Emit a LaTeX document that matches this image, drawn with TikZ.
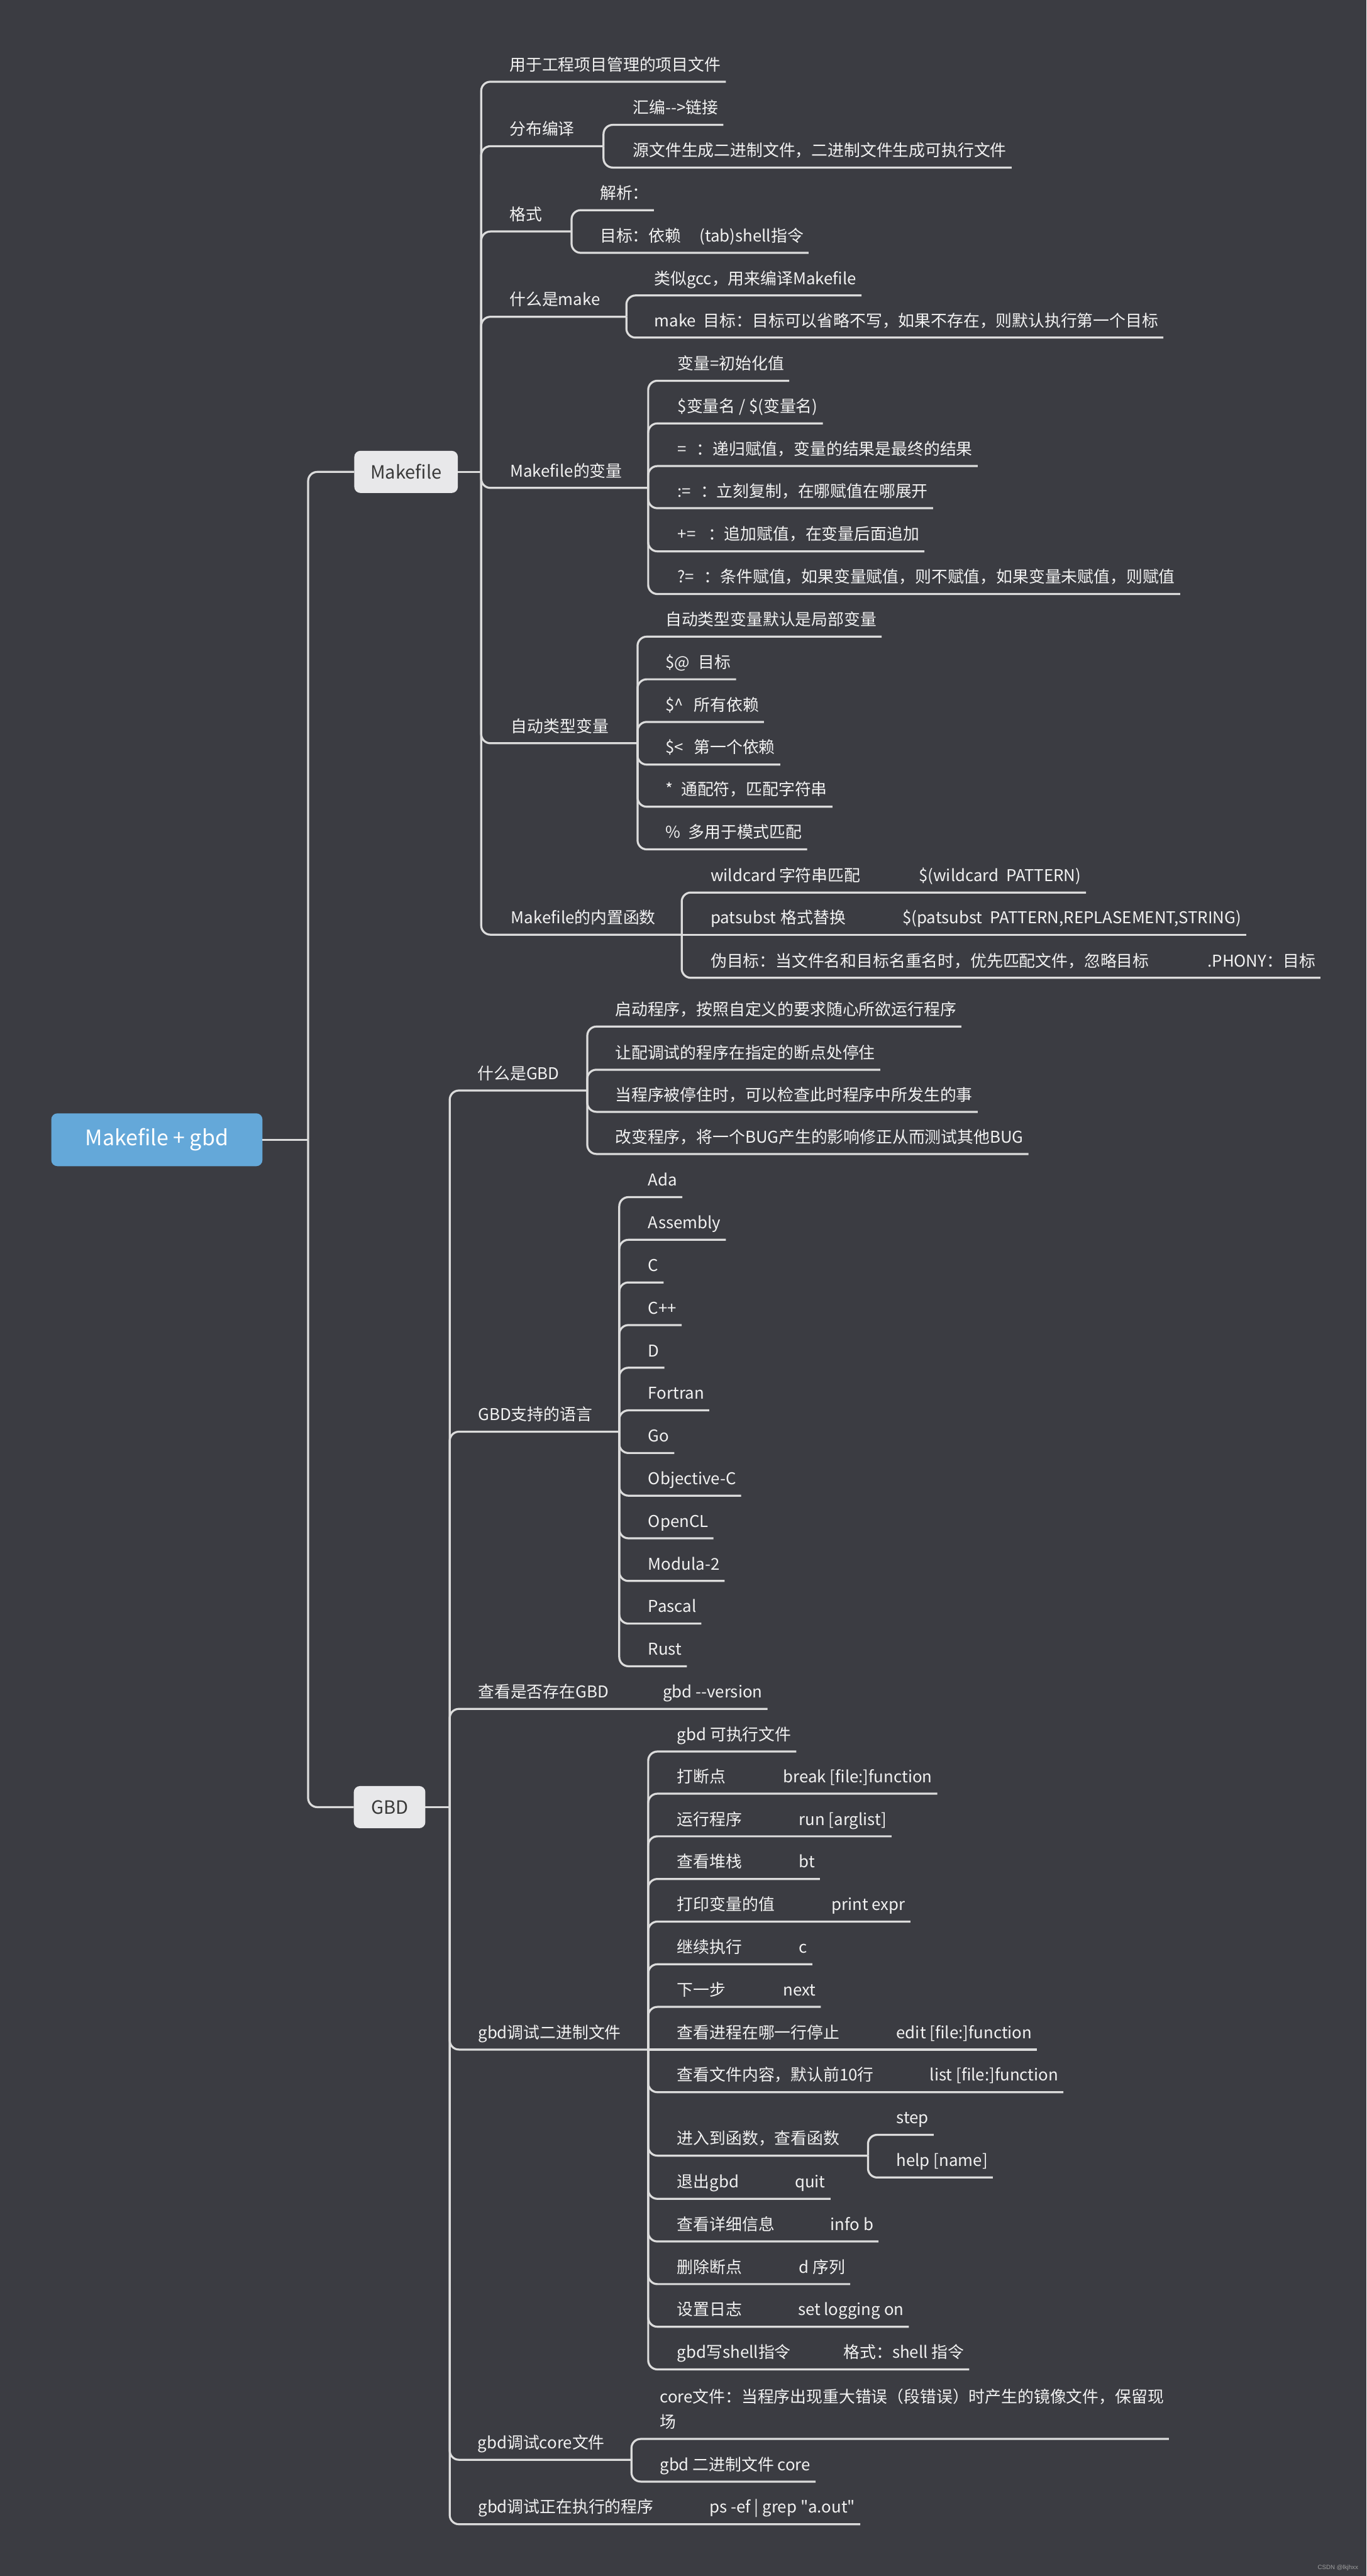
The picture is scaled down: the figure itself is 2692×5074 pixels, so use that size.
\documentclass[tikz,border=0pt]{standalone}
\usepackage{fontspec}
\setmainfont{Noto Sans CJK SC}
\newfontfamily\wmfont{Liberation Sans}
\newdimen\pxu \pxu=0.5pt
\newcommand\tb[2]{\makebox[#1\pxu][l]{#2}}
\definecolor{bgc}{HTML}{3B3C42}
\definecolor{linec}{HTML}{DCDCDC}
\definecolor{txtc}{HTML}{F2F2F2}
\definecolor{boxc}{HTML}{E8E8EA}
\definecolor{boxtxt}{HTML}{3A3A3A}
\definecolor{rootc}{HTML}{64A8D9}
\definecolor{wmc}{HTML}{A0A0A0}
\begin{document}
\begin{tikzpicture}[x=0.5pt,y=-0.5pt,
  conn/.style={draw=linec, line width=2pt, rounded corners=9pt},
  topic/.style={anchor=south west, inner xsep=5pt, inner ysep=11pt, outer sep=0pt, text depth=0pt, text=txtc, font=\fontsize{16pt}{19pt}\selectfont},
  catbox/.style={fill=boxc, rounded corners=6pt, text=boxtxt, font=\fontsize{18pt}{21pt}\selectfont, minimum height=41.5pt, inner sep=0pt, outer sep=0pt},
  rootbox/.style={fill=rootc, rounded corners=6pt, text=white, font=\fontsize{21pt}{25pt}\selectfont, minimum width=208pt, minimum height=52pt, inner sep=0pt, outer sep=0pt}]
\fill[bgc] (0,0) rectangle (2692,5074);
\useasboundingbox (0,0) rectangle (2692,5074);

% ---------- central and main topics
\node[rootbox] (root) at (309,2245) {Makefile + gbd};
\coordinate (mtrunk) at (607,2245);
\node[catbox, minimum width=102pt] (mk) at (800,929.5) {Makefile};
\node[catbox, minimum width=70.5pt] (gbd) at (767.5,3559.5) {GBD};
\coordinate (mkT) at (948,929.5);
\coordinate (gbT) at (886,3559.5);

% ---------- Makefile branch
\node[topic] (m1) at (994,161) {用于工程项目管理的项目文件};
\node[topic] (m2) at (994,288) {分布编译};
\coordinate (m2T) at (1189,288);
\node[topic] (m2a) at (1237,246) {汇编-{}->链接};
\node[topic] (m2b) at (1237,330) {源文件生成二进制文件，二进制文件生成可执行文件};
\node[topic] (m3) at (994,456) {格式};
\coordinate (m3T) at (1126,456);
\node[topic] (m3a) at (1172,414) {解析：};
\node[topic] (m3b) at (1172,498) {\tb{196}{目标：依赖}(tab)shell指令};
\node[topic] (m4) at (994,624) {什么是make};
\coordinate (m4T) at (1234,624);
\node[topic] (m4a) at (1279,582) {类似gcc，用来编译Makefile};
\node[topic] (m4b) at (1279,665) {\tb{97}{make}目标：目标可以省略不写，如果不存在，则默认执行第一个目标};
\node[topic] (m5) at (995,961) {Makefile的变量};
\coordinate (m5T) at (1277,961);
\node[topic] (m5a) at (1325,750) {变量=初始化值};
\node[topic] (m5b) at (1325,834) {\$变量名 / \$(变量名)};
\node[topic] (m5c) at (1325,918) {\tb{37}{=}：递归赋值，变量的结果是最终的结果};
\node[topic] (m5d) at (1325,1001) {\tb{45}{:=}：立刻复制，在哪赋值在哪展开};
\node[topic] (m5e) at (1325,1086) {\tb{60}{+=}：追加赋值，在变量后面追加};
\node[topic] (m5f) at (1325,1170) {\tb{52}{?=}：条件赋值，如果变量赋值，则不赋值，如果变量未赋值，则赋值};
\node[topic] (m6) at (997,1464) {自动类型变量};
\coordinate (m6T) at (1256,1464);
\node[topic] (m6a) at (1301,1254) {自动类型变量默认是局部变量};
\node[topic] (m6b) at (1301,1338) {\tb{65}{\$@}目标};
\node[topic] (m6c) at (1301,1422) {\tb{56}{\$\textasciicircum}所有依赖};
\node[topic] (m6d) at (1301,1506) {\tb{56}{\$<}第一个依赖};
\node[topic] (m6e) at (1301,1589) {\tb{31}{*}通配符，匹配字符串};
\node[topic] (m6f) at (1301,1673) {\tb{45}{\%}多用于模式匹配};
\node[topic] (m7) at (997,1841) {Makefile的内置函数};
\coordinate (m7T) at (1343,1841);
\node[topic] (m7a) at (1390,1758) {\tb{135}{wildcard}\tb{275}{字符串匹配}\$(wildcard\ \ PATTERN)};
\node[topic] (m7b) at (1390,1841) {\tb{138}{patsubst}\tb{240}{格式替换}\$(patsubst\ \ PATTERN,REPLASEMENT,STRING)};
\node[topic] (m7c) at (1390,1926) {\tb{979}{伪目标：当文件名和目标名重名时，优先匹配文件，忽略目标}.PHONY：目标};

% ---------- GBD branch
\node[topic] (g1) at (931,2148) {什么是GBD};
\coordinate (g1T) at (1157,2148);
\node[topic] (g1a) at (1202,2022) {启动程序，按照自定义的要求随心所欲运行程序};
\node[topic] (g1b) at (1202,2107) {让配调试的程序在指定的断点处停住};
\node[topic] (g1c) at (1202,2190) {当程序被停住时，可以检查此时程序中所发生的事};
\node[topic] (g1d) at (1202,2273) {改变程序，将一个BUG产生的影响修正从而测试其他BUG};
\node[topic] (g2) at (932,2820) {GBD支持的语言};
\coordinate (g2T) at (1220,2820);
\node[topic] (l1) at (1267,2358) {Ada};
\node[topic] (l2) at (1267,2442) {Assembly};
\node[topic] (l3) at (1267,2526) {C};
\node[topic] (l4) at (1267,2610) {C++};
\node[topic] (l5) at (1267,2694) {D};
\node[topic] (l6) at (1267,2778) {Fortran};
\node[topic] (l7) at (1267,2862) {Go};
\node[topic] (l8) at (1267,2946) {Objective-C};
\node[topic] (l9) at (1267,3030) {OpenCL};
\node[topic] (l10) at (1267,3114) {Modula-2};
\node[topic] (l11) at (1267,3198) {Pascal};
\node[topic] (l12) at (1267,3282) {Rust};
\node[topic] (g3) at (932,3366) {\tb{364}{查看是否存在GBD}gbd -{}-version};
\node[topic] (g4) at (932,4037) {gbd调试二进制文件};
\coordinate (g4T) at (1277,4037);
\node[topic] (g4a) at (1324,3450) {gbd 可执行文件};
\node[topic] (g4b) at (1324,3533) {\tb{209}{打断点}break [file:]function};
\node[topic] (g4c) at (1324,3617) {\tb{240}{运行程序}run [arglist]};
\node[topic] (g4d) at (1324,3701) {\tb{240}{查看堆栈}bt};
\node[topic] (g4e) at (1324,3785) {\tb{304}{打印变量的值}print expr};
\node[topic] (g4f) at (1324,3869) {\tb{240}{继续执行}c};
\node[topic] (g4g) at (1324,3953) {\tb{209}{下一步}next};
\node[topic] (g4h) at (1324,4037) {\tb{432}{查看进程在哪一行停止}edit [file:]function};
\node[topic] (g4i) at (1324,4121) {\tb{498}{查看文件内容，默认前10行}list [file:]function};
\node[topic] (g4j) at (1324,4246) {进入到函数，查看函数};
\coordinate (g4jT) at (1710,4246);
\node[topic] (g4j1) at (1756,4205) {step};
\node[topic] (g4j2) at (1756,4289) {help [name]};
\node[topic] (g4k) at (1324,4331) {\tb{232}{退出gbd}quit};
\node[topic] (g4l) at (1324,4415) {\tb{302}{查看详细信息}info b};
\node[topic] (g4m) at (1324,4499) {\tb{240}{删除断点}d 序列};
\node[topic] (g4n) at (1324,4583) {\tb{238}{设置日志}set logging on};
\node[topic] (g4o) at (1324,4667) {\tb{328}{gbd写shell指令}格式：shell 指令};
\node[topic] (g5) at (931,4845) {gbd调试core文件};
\coordinate (g5T) at (1244,4845);
\node[topic, align=left, font=\fontsize{16pt}{24.5pt}\selectfont] (g5a) at (1290,4804) {core文件：当程序出现重大错误（段错误）时产生的镜像文件，保留现\\场};
\node[topic] (g5b) at (1290,4888) {gbd 二进制文件 core};
\node[topic] (g6) at (932,4972) {\tb{456}{gbd调试正在执行的程序}ps -ef | grep \textquotedbl a.out\textquotedbl};

% ---------- connectors
\draw[conn] (root.east) -- (mtrunk);
\draw[conn] (mtrunk) |- (mk.west);
\draw[conn] (mtrunk) |- (gbd.west);
\draw[conn] (mk.east) -- (mkT);
\draw[conn] (gbd.east) -- (gbT);

\foreach \c in {m1.south east, m2T, m3T, m4T, m5T, m6T, m7T}
  \draw[conn] (mkT) |- (\c);
\foreach \c in {m2a, m2b} \draw[conn] (m2T) |- (\c.south east);
\foreach \c in {m3a, m3b} \draw[conn] (m3T) |- (\c.south east);
\foreach \c in {m4a, m4b} \draw[conn] (m4T) |- (\c.south east);
\foreach \c in {m5a, m5b, m5c, m5d, m5e, m5f} \draw[conn] (m5T) |- (\c.south east);
\foreach \c in {m6a, m6b, m6c, m6d, m6e, m6f} \draw[conn] (m6T) |- (\c.south east);
\foreach \c in {m7a, m7c} \draw[conn] (m7T) |- (\c.south east);
\draw[conn] (m7T) -- (m7b.south east);

\foreach \c in {g1T, g2T, g3.south east, g4T, g5T, g6.south east}
  \draw[conn] (gbT) |- (\c);
\foreach \c in {g1a, g1b, g1c, g1d} \draw[conn] (g1T) |- (\c.south east);
\foreach \c in {l1, l2, l3, l4, l5, l6, l7, l8, l9, l10, l11, l12} \draw[conn] (g2T) |- (\c.south east);
\foreach \c in {g4a, g4b, g4c, g4d, g4e, g4f, g4g, g4i, g4k, g4l, g4m, g4n, g4o} \draw[conn] (g4T) |- (\c.south east);
\draw[conn] (g4T) -- (g4h.south east);
\draw[conn] (g4T) |- (g4jT);
\foreach \c in {g4j1, g4j2} \draw[conn] (g4jT) |- (\c.south east);
\foreach \c in {g5a, g5b} \draw[conn] (g5T) |- (\c.south east);

% ---------- watermark
\node[anchor=base east, inner sep=0pt, text=wmc, font=\wmfont\fontsize{6pt}{7pt}\selectfont] (wm) at (2676,5061) {CSDN @lkjhxx};
\end{tikzpicture}
\end{document}
